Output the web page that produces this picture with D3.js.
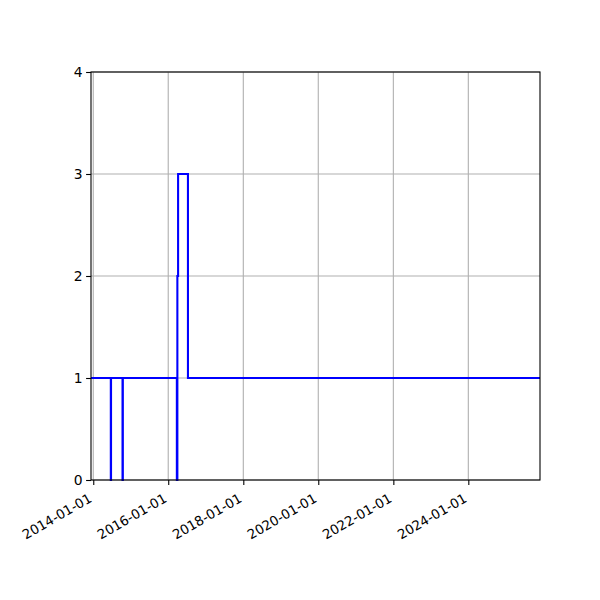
<!DOCTYPE html>
<html>
<head>
<meta charset="utf-8">
<script src="https://cdn.jsdelivr.net/npm/d3@7"></script>
<style>
  body { margin: 0; background: #fff; }
  text { font-family: "DejaVu Sans", sans-serif; }
</style>
</head>
<body>
<div id="chart"></div>
<script>
// Step data: each value holds from its date until the next date
var stepDates = ["2013-12-10", "2014-06-21", "2014-06-23", "2014-10-13", "2014-10-16",
                 "2016-03-25", "2016-03-30", "2016-04-06", "2016-07-11", "2025-11-29"];
var stepValues = [1, 0, 1, 0, 1, 0, 2, 3, 1, 1];
var xTickDates = ["2014-01-01", "2016-01-01", "2018-01-01", "2020-01-01", "2022-01-01", "2024-01-01"];
var yTicks = [0, 1, 2, 3, 4];
var xDomain = ["2013-12-10", "2025-11-29"];

var w = 600, h = 600;
var margin = {left: 91, right: 60, top: 72, bottom: 120};

var parse = d3.utcParse("%Y-%m-%d");
var data = stepDates.map(function(d, i) { return {date: parse(d), value: stepValues[i]}; });

var svg = d3.select('#chart').append('svg')
    .attr('width', w)
    .attr('height', h);

var x = d3.scaleUtc()
    .domain(xDomain.map(parse))
    .range([margin.left, w - margin.right]);

var y = d3.scaleLinear()
    .domain([0, 4])
    .range([h - margin.bottom, margin.top]);

// grid
svg.append('g').selectAll('line')
    .data(xTickDates.map(parse))
  .enter().append('line')
    .attr('x1', function(d) { return x(d); })
    .attr('x2', function(d) { return x(d); })
    .attr('y1', margin.top)
    .attr('y2', h - margin.bottom)
    .attr('stroke', '#b0b0b0')
    .attr('stroke-width', 1.1);

svg.append('g').selectAll('line')
    .data(yTicks)
  .enter().append('line')
    .attr('x1', margin.left)
    .attr('x2', w - margin.right)
    .attr('y1', function(d) { return y(d); })
    .attr('y2', function(d) { return y(d); })
    .attr('stroke', '#b0b0b0')
    .attr('stroke-width', 1.1);

// step line
var line = d3.line()
    .curve(d3.curveStepAfter)
    .x(function(d) { return x(d.date); })
    .y(function(d) { return y(d.value); });

svg.append('path')
    .datum(data)
    .attr('d', line)
    .attr('fill', 'none')
    .attr('stroke', '#0000ff')
    .attr('stroke-width', 2.08);

// axes
var fmt = d3.utcFormat("%Y-%m-%d");
var xAxis = svg.append('g')
    .attr('transform', 'translate(0,' + (h - margin.bottom) + ')')
    .call(d3.axisBottom(x)
        .tickValues(xTickDates.map(parse))
        .tickFormat(fmt)
        .tickSize(4.9)
        .tickPadding(3.5));
xAxis.select('.domain').remove();
xAxis.selectAll('.tick line').attr('stroke-width', 1.1);
xAxis.selectAll('text')
    .attr('font-size', '13.3px')
    .attr('fill', '#000')
    .style('text-anchor', 'end')
    .attr('y', 0)
    .attr('dx', '0')
    .attr('dy', '0')
    .attr('transform', 'translate(-1,21) rotate(-30)');

var yAxis = svg.append('g')
    .attr('transform', 'translate(' + margin.left + ',0)')
    .call(d3.axisLeft(y)
        .tickValues(yTicks)
        .tickFormat(d3.format('d'))
        .tickSize(4.9)
        .tickPadding(3.5));
yAxis.select('.domain').remove();
yAxis.selectAll('.tick line').attr('stroke-width', 1.1);
yAxis.selectAll('text').attr('font-size', '13.9px').attr('fill', '#000');

// frame
svg.append('rect')
    .attr('x', margin.left)
    .attr('y', margin.top)
    .attr('width', w - margin.left - margin.right)
    .attr('height', h - margin.top - margin.bottom)
    .attr('fill', 'none')
    .attr('stroke', '#000')
    .attr('stroke-width', 1.1);
</script>
</body>
</html>
